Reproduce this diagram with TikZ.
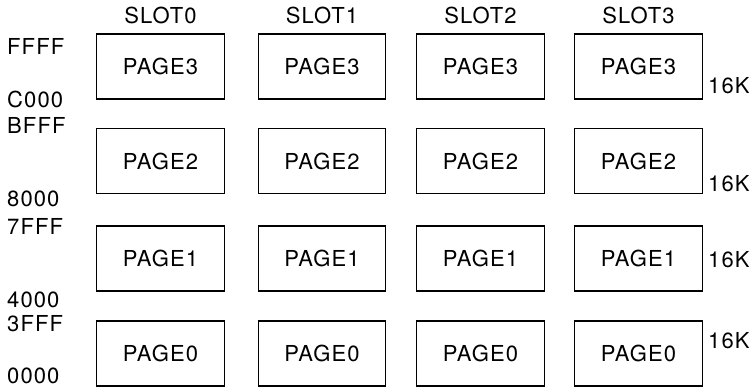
\documentclass[tikz,border=0pt]{standalone}
\usepackage{fontspec}
\setmainfont[LetterSpace=5]{TeX Gyre Heros}
\begin{document}
\begin{tikzpicture}[x=1pt,y=-1pt,
  pagebox/.style={draw, line width=1.2pt, minimum width=127.5pt, minimum height=65pt, inner sep=0pt, font=\fontsize{22}{26}\selectfont},
  lbl/.style={inner sep=0pt, font=\fontsize{22}{26}\selectfont},
  addr/.style={lbl, anchor=west}]
\useasboundingbox (0,0) rectangle (755,391);
% slot headers
\node[lbl] (s0) at (160.5,15) {SLOT0};
\node[lbl] (s1) at (322,15) {SLOT1};
\node[lbl] (s2) at (480.5,15) {SLOT2};
\node[lbl] (s3) at (638.5,15) {SLOT3};
% boxes
\foreach \c/\x in {0/160.5,1/322,2/480.5,3/638.5}{
  \node[pagebox] (p3s\c) at (\x,66.5) {PAGE3};
  \node[pagebox] (p2s\c) at (\x,161) {PAGE2};
  \node[pagebox] (p1s\c) at (\x,258.5) {PAGE1};
  \node[pagebox] (p0s\c) at (\x,353.5) {PAGE0};
}
% addresses
\node[addr] (aFFFF) at (7,46) {FFFF};
\node[addr] (aC000) at (7,99) {C000};
\node[addr] (aBFFF) at (7,125) {BFFF};
\node[addr] (a8000) at (7,199) {8000};
\node[addr] (a7FFF) at (7,226) {7FFF};
\node[addr] (a4000) at (7,300) {4000};
\node[addr] (a3FFF) at (7,324) {3FFF};
\node[addr] (a0000) at (7,376) {0000};
% sizes
\node[addr] (k3) at (708,86) {16K};
\node[addr] (k2) at (708,184) {16K};
\node[addr] (k1) at (708,260) {16K};
\node[addr] (k0) at (708,341) {16K};
\end{tikzpicture}
\end{document}
